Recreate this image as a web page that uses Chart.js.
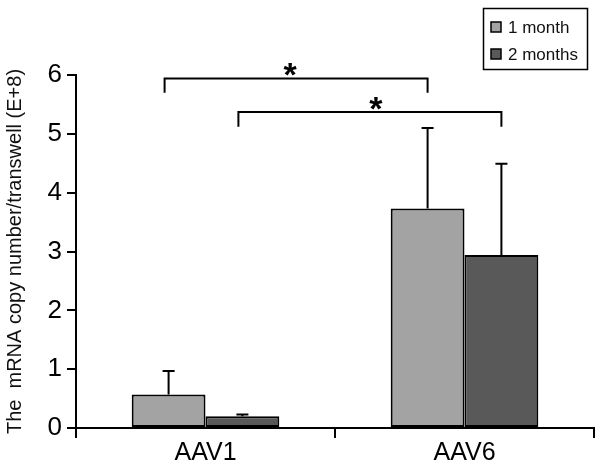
<!DOCTYPE html>
<html>
<head>
<meta charset="utf-8">
<script src="https://cdn.jsdelivr.net/npm/chart.js@4/dist/chart.umd.min.js"></script>
<style>
  body { margin: 0; background: #fff; }
  #wrap { width: 604px; height: 472px; }
</style>
</head>
<body>
<div id="wrap"><canvas id="chart" width="604" height="472"></canvas></div>
<script>
const categories = ['AAV1', 'AAV6'];
const seriesNames = ['1 month', '2 months'];
const oneMonth = [0.57, 3.73];
const twoMonths = [0.20, 2.94];
const oneMonthErr = [0.40, 1.37];
const twoMonthsErr = [0.03, 1.55];
const yTicks = [0, 1, 2, 3, 4, 5, 6];

// significance brackets: [dataset, index] -> [dataset, index], bar height and leg bottom
const brackets = [
    { from: [0, 0], to: [0, 1], y: 5.94, leg: 5.70, starShift: -6 },
    { from: [1, 0], to: [1, 1], y: 5.37, leg: 5.12, starShift: 6 }
];

const colors = ['#a3a3a3', '#595959'];
const errs = [oneMonthErr, twoMonthsErr];
const FONT = '"Liberation Sans", Arial, sans-serif';

const extras = {
    id: 'extras',
    afterDatasetsDraw: function (chart) {
        const ctx = chart.ctx;
        const y = chart.scales.y;
        ctx.save();
        ctx.strokeStyle = '#000';
        ctx.lineWidth = 2;

        // error bars (upper only)
        chart.data.datasets.forEach((ds, di) => {
            const meta = chart.getDatasetMeta(di);
            meta.data.forEach((bar, i) => {
                const top = y.getPixelForValue(ds.data[i] + errs[di][i]);
                ctx.beginPath();
                ctx.moveTo(bar.x, bar.y);
                ctx.lineTo(bar.x, top);
                ctx.moveTo(bar.x - 6, top);
                ctx.lineTo(bar.x + 6, top);
                ctx.stroke();
            });
        });

        // brackets with stars
        brackets.forEach(b => {
            const x1 = chart.getDatasetMeta(b.from[0]).data[b.from[1]].x - 4;
            const x2 = chart.getDatasetMeta(b.to[0]).data[b.to[1]].x;
            const yy = y.getPixelForValue(b.y);
            const yl = y.getPixelForValue(b.leg);
            ctx.beginPath();
            ctx.moveTo(x1, yl);
            ctx.lineTo(x1, yy);
            ctx.lineTo(x2, yy);
            ctx.lineTo(x2, yl);
            ctx.stroke();
            ctx.fillStyle = '#000';
            ctx.font = 'bold 34px ' + FONT;
            ctx.textAlign = 'center';
            ctx.textBaseline = 'alphabetic';
            const m = ctx.measureText('*');
            const cy = yy - 9;
            const base = cy + (m.actualBoundingBoxAscent - m.actualBoundingBoxDescent) / 2;
            ctx.fillText('*', (x1 + x2) / 2 + b.starShift, base);
        });

        // legend box
        ctx.lineWidth = 1.5;
        ctx.strokeRect(483.5, 8.5, 104, 61);
        ctx.font = '17px ' + FONT;
        ctx.textAlign = 'left';
        ctx.textBaseline = 'middle';
        seriesNames.forEach((name, i) => {
            const ty = 27 + i * 27;
            ctx.fillStyle = colors[i];
            ctx.fillRect(491, ty - 5, 10, 10);
            ctx.lineWidth = 1.5;
            ctx.strokeStyle = '#000';
            ctx.strokeRect(491, ty - 5, 10, 10);
            ctx.fillStyle = '#111';
            ctx.fillText(name, 508, ty + 1);
        });
        ctx.restore();
    }
};

new Chart(document.getElementById('chart').getContext('2d'), {
    type: 'bar',
    data: {
        labels: categories,
        datasets: [
            { label: seriesNames[0], data: oneMonth, backgroundColor: colors[0], borderColor: '#000', borderWidth: 2, borderSkipped: false },
            { label: seriesNames[1], data: twoMonths, backgroundColor: colors[1], borderColor: '#000', borderWidth: 2, borderSkipped: false }
        ]
    },
    options: {
        responsive: false,
        animation: false,
        layout: { padding: { top: 75, right: 10, left: 0, bottom: 0 } },
        datasets: { bar: { barPercentage: 1, categoryPercentage: 0.57 } },
        plugins: { legend: { display: false }, tooltip: { enabled: false } },
        scales: {
            x: {
                grid: { drawOnChartArea: false, color: '#000', lineWidth: 2, tickLength: 10, offset: true },
                border: { color: '#000', width: 2 },
                ticks: { color: '#000', font: { size: 25, family: FONT }, padding: 0 },
                afterFit: s => { s.height = 44; }
            },
            y: {
                min: 0,
                max: 6,
                afterBuildTicks: s => { s.ticks = yTicks.map(v => ({ value: v })); },
                grid: { drawOnChartArea: false, color: '#000', lineWidth: 2, tickLength: 9 },
                border: { color: '#000', width: 2 },
                ticks: { color: '#000', font: { size: 26, family: FONT }, padding: 5 },
                title: {
                    display: true,
                    text: 'The  mRNA copy number/transwell (E+8)',
                    color: '#111',
                    font: { size: 20, family: FONT },
                    padding: { top: 3, bottom: 0 }
                },
                afterFit: s => { s.width = 76; }
            }
        }
    },
    plugins: [extras]
});
</script>
</body>
</html>
